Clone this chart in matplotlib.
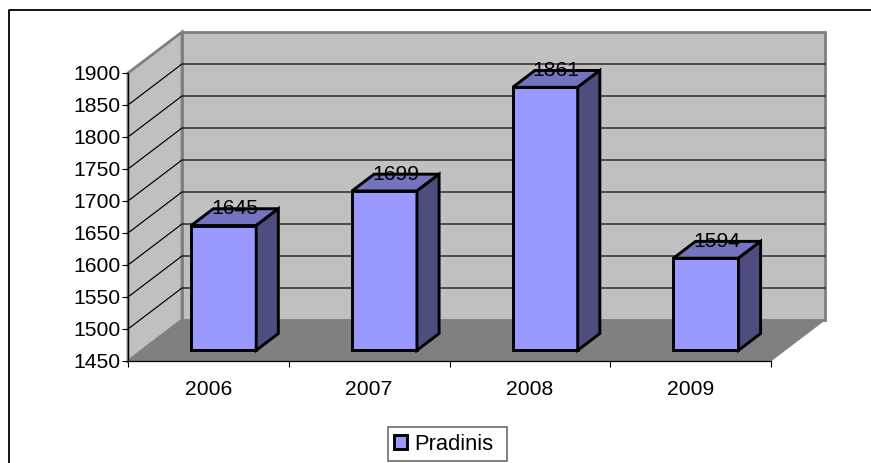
import matplotlib
matplotlib.use('Agg')
import matplotlib.pyplot as plt
from matplotlib.patches import Polygon, Patch, Rectangle
from matplotlib.lines import Line2D

anios = ['2006', '2007', '2008', '2009']
valores = [1645, 1699, 1861, 1594]
marcas_y = [1450, 1500, 1550, 1600, 1650, 1700, 1750, 1800, 1850, 1900]
serie = 'Pradinis'

# desplazamiento de la profundidad 3D (en unidades de los ejes)
dx = 54 / 643 * 4
dy = 41 / 0.64
base = marcas_y[0]
tope = marcas_y[-1]

plt.rcParams['font.family'] = ['Liberation Sans', 'DejaVu Sans']
plt.rcParams['font.size'] = 15.2

W, H = 871, 463
fig = plt.figure(figsize=(W / 100, H / 100), dpi=100)
ax = fig.add_axes([128 / W, (H - 361) / H, 643 / W, 288 / H])
ax.set_xlim(0, 4)
ax.set_ylim(base, tope)
ax.patch.set_visible(False)


def p(x, v, d=0.0):
    return (x + d * dx, v + d * dy)


def cara(puntos, color, borde, lw, z):
    ax.add_patch(Polygon(puntos, closed=True, facecolor=color, edgecolor=borde,
                         linewidth=lw, joinstyle='miter', clip_on=False, zorder=z))


# paredes y suelo
cara([p(0, base, 1), p(4, base, 1), p(4, tope, 1), p(0, tope, 1)], '#c0c0c0', '#808080', 2, 1)
cara([p(0, base), p(0, base, 1), p(0, tope, 1), p(0, tope)], '#c0c0c0', '#808080', 2, 1)
cara([p(0, base), p(4, base), p(4, base, 1), p(0, base, 1)], '#808080', '#808080', 0.5, 1.5)

for m in marcas_y[1:-1]:
    x0, y0 = p(0, m)
    x1, y1 = p(0, m, 1)
    x2, y2 = p(4, m, 1)
    ax.plot([x0, x1, x2], [y0, y1, y2], color='black', lw=0.85, clip_on=False, zorder=2)

# barras
ancho = 65 / 643 * 4
d0 = 0.26
d1 = 0.67
for i, v in enumerate(valores):
    c = i + 0.5 + 0.008
    a = c - ancho / 2
    b = c + ancho / 2
    cara([p(a, base, d0), p(b, base, d0), p(b, v, d0), p(a, v, d0)], '#9999ff', 'black', 2.1, 3)
    cara([p(a, v, d0), p(b, v, d0), p(b, v, d1), p(a, v, d1)], '#7373bf', 'black', 2.1, 3)
    cara([p(b, base, d0), p(b, base, d1), p(b, v, d1), p(b, v, d0)], '#4d4d80', 'black', 2.1, 3)
    tx, _ = p(c, v, (d0 + d1) / 2)
    _, ty = p(c, v, d1)
    ax.text(tx, ty, str(v), ha='center', va='center', color='black', zorder=5, clip_on=False)

# ejes
for lado in ['top', 'right']:
    ax.spines[lado].set_visible(False)
for lado in ['left', 'bottom']:
    ax.spines[lado].set_linewidth(0.9)
    ax.spines[lado].set_zorder(4)
ax.set_yticks(marcas_y)
ax.set_xticks(range(5))
ax.set_xticklabels([])
ax.set_xticks([i + 0.5 for i in range(4)], minor=True)
ax.set_xticklabels(anios, minor=True)
ax.tick_params(axis='x', which='minor', length=0, pad=13.5)
ax.tick_params(axis='x', which='major', length=4.5, width=0.8)
ax.tick_params(axis='y', length=4.3, width=0.8, pad=1.2)

# marco exterior, cortado por el borde de la imagen
fig.add_artist(Line2D([9 / W, 9 / W, 1], [0, (H - 10) / H, (H - 10) / H], color='black', lw=1.3))

# caja de la leyenda
fig.add_artist(Rectangle((387.5 / W, (H - 461) / H), 119.5 / W, 34 / H, transform=fig.transFigure,
                         facecolor='white', edgecolor='#606060', linewidth=1.1))
ley = fig.legend(handles=[Patch(facecolor='#9999ff', edgecolor='black', linewidth=2.1, label=serie)],
                 loc='center left', bbox_to_anchor=(394 / W, (H - 444) / H), frameon=False,
                 handlelength=0.6, handleheight=0.6, handletextpad=0.32, borderpad=0,
                 borderaxespad=0, fontsize=15.8)

fig.savefig('out.png', dpi=100)
